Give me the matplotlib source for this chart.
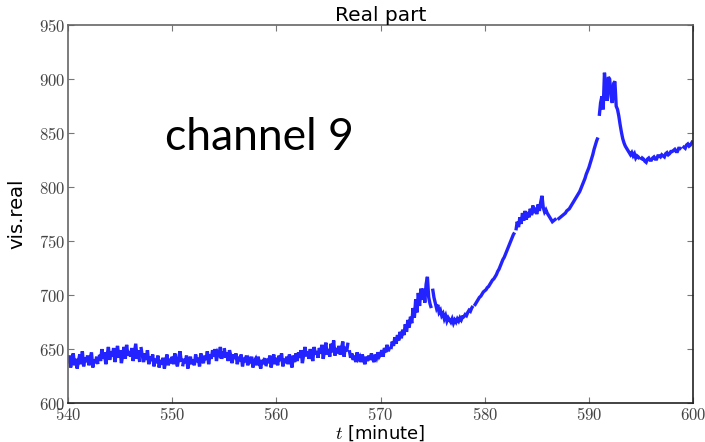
import numpy as np
import matplotlib
matplotlib.use("Agg")
import matplotlib.pyplot as plt
from matplotlib.ticker import FuncFormatter

# Real part of the visibility, channel 9, sampled every 0.125 minute from 540 to 600
t_start, t_step = 540.0, 0.125
vis_real = [
    637, 644, 633, 640, 646, 635, 641, 632,   # 540
    639, 645, 636, 648, 634, 642, 638, 644,   # 541
    635, 641, 647, 633, 640, 637, 643, 636,   # 542
    645, 639, 650, 641, 647, 636, 644, 652,   # 543
    640, 648, 643, 651, 638, 646, 653, 642,   # 544
    649, 637, 645, 652, 641, 654, 644, 648,   # 545
    643, 651, 639, 647, 655, 641, 649, 638,   # 546
    652, 644, 638, 646, 640, 649, 636, 643,   # 547
    639, 645, 634, 641, 637, 644, 633, 640,   # 548
    636, 642, 632, 639, 645, 635, 641, 637,   # 549
    643, 636, 646, 639, 634, 642, 648, 638,   # 550
    634, 641, 637, 644, 632, 639, 643, 636,   # 551
    640, 635, 645, 638, 642, 634, 646, 640,   # 552
    637, 644, 640, 648, 636, 645, 641, 649,   # 553
    643, 650, 639, 647, 645, 652, 641, 648,   # 554
    651, 642, 647, 639, 649, 644, 637, 645,   # 555
    641, 646, 636, 643, 639, 645, 634, 642,   # 556
    638, 644, 635, 640, 637, 643, 633, 639,   # 557
    641, 635, 643, 637, 632, 640, 636, 642,   # 558
    634, 641, 637, 644, 633, 640, 645, 636,   # 559
    642, 635, 644, 639, 646, 634, 641, 637,   # 560
    643, 636, 645, 640, 633, 644, 638, 646,   # 561
    639, 647, 642, 649, 637, 645, 652, 643,   # 562
    648, 641, 650, 644, 639, 652, 645, 648,   # 563
    642, 651, 646, 654, 641, 649, 656, 645,   # 564
    650, 643, 655, 647, 658, 644, 651, 646,   # 565
    653, 645, 650, 657, 643, 652, 648, 656,   # 566
    649, 642, 646, 640, 644, 638, 647, 641,   # 567
    643, 638, 645, 640, 636, 643, 639, 644,   # 568
    640, 646, 641, 638, 645, 642, 647, 643,   # 569
    645, 649, 643, 651, 647, 654, 648, 652,   # 570
    650, 657, 653, 661, 655, 663, 658, 666,   # 571
    660, 668, 663, 673, 666, 677, 670, 680,   # 572
    674, 688, 679, 696, 684, 702, 690, 706,   # 573
    696, 706, 693, 710, 717, 698, 692, 688,   # 574
    706, 698, 693, 688, 691, 684, 686, 681,   # 575
    683, 678, 681, 676, 679, 677, 675, 678,   # 576
    674, 677, 675, 678, 676, 679, 677, 680,   # 577
    680, 682, 681, 684, 686, 685, 688, 690,   # 578
    690, 692, 694, 696, 698, 699, 701, 703,   # 579
    704, 705, 707, 708, 710, 712, 714, 715,   # 580
    717, 719, 722, 724, 727, 730, 733, 735,   # 581
    738, 741, 744, 747, 750, 753, 756, 758,   # 582
    760, 768, 763, 772, 766, 776, 769, 778,   # 583
    770, 777, 772, 780, 774, 783, 776, 781,   # 584
    775, 784, 778, 786, 792, 781, 777, 779,   # 585
    776, 774, 772, 770, 768, 769, 770, 771,   # 586
    770, 771, 772, 773, 774, 775, 776, 778,   # 587
    779, 780, 782, 784, 786, 788, 790, 792,   # 588
    794, 796, 799, 802, 805, 808, 812, 815,   # 589
    818, 822, 826, 830, 835, 839, 843, 846,   # 590
    866, 878, 884, 872, 906, 890, 880, 902,   # 591
    900, 884, 878, 896, 898, 875, 872, 866,   # 592
    858, 851, 845, 841, 838, 836, 834, 832,   # 593
    830, 832, 829, 831, 827, 829, 828, 826,   # 594
    825, 827, 826, 824, 823, 826, 827, 825,   # 595
    825, 827, 828, 826, 826, 829, 829, 828,   # 596
    830, 829, 828, 831, 832, 830, 831, 833,   # 597
    833, 834, 835, 833, 833, 836, 836, 835,   # 598
    838, 837, 836, 839, 840, 838, 839, 841,   # 599
    843,                                      # 600
]

# Times where one acquisition block ends and the next begins (the trace breaks)
block_breaks = [542.94, 546.94, 550.94, 554.94, 558.94, 562.94, 566.94, 570.94,
                574.94, 578.94, 582.94, 586.94, 590.94, 594.94, 598.94]

x_ticks = [540, 550, 560, 570, 580, 590, 600]
y_ticks = [600, 650, 700, 750, 800, 850, 900, 950]

t = t_start + t_step * np.arange(len(vis_real))
v = np.asarray(vis_real, dtype=float)
idx = np.searchsorted(t, block_breaks)
t = np.insert(t, idx, block_breaks)
v = np.insert(v, idx, np.nan)

plt.rcParams["mathtext.fontset"] = "cm"

fig = plt.figure(figsize=(7.05, 4.42), dpi=100)
ax = fig.add_axes([0.0965, 0.088, 0.8865, 0.855])

ax.plot(t, v, color="#2323ff", lw=2.4, solid_capstyle="butt",
        solid_joinstyle="miter")

ax.set_xlim(540, 600)
ax.set_ylim(600, 950)
ax.set_xticks(x_ticks)
ax.set_yticks(y_ticks)
fmt = FuncFormatter(lambda val, pos: r"$%d$" % val)
ax.xaxis.set_major_formatter(fmt)
ax.yaxis.set_major_formatter(fmt)
ax.tick_params(direction="in", length=4, width=0.8, top=True, right=True,
               labelsize=12, labelcolor="#444444", color="#777777", pad=2)

for side, spine in ax.spines.items():
    spine.set_linewidth(1.2)
    spine.set_color("#222222" if side in ("bottom", "right") else "#666666")

ax.set_title("Real part", fontsize=14.5, pad=3, family="DejaVu Sans")
ax.set_xlabel(r"$t$ [minute]", fontsize=13, labelpad=0, family="DejaVu Sans")
ax.set_ylabel("vis.real", fontsize=14, labelpad=9, family="DejaVu Sans")

ax.text(549.3, 834, "channel 9", fontsize=32, family="Lato",
        ha="left", va="baseline", color="black")

fig.savefig("out.png", dpi=100)
